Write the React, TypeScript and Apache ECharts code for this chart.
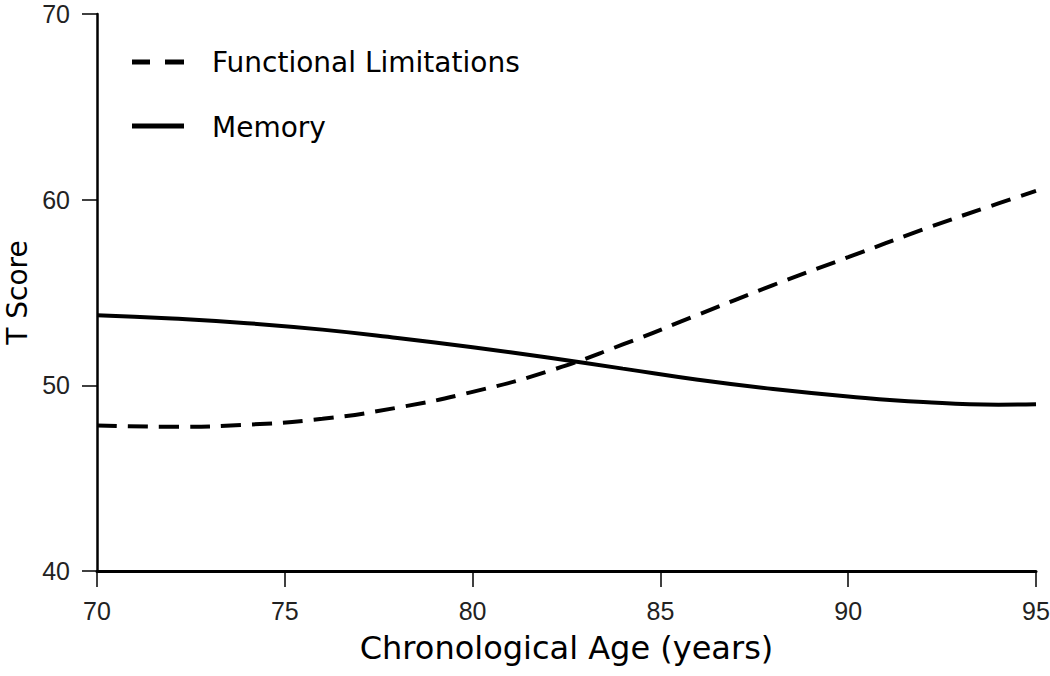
import React, { useEffect, useRef } from "react";
import * as echarts from "echarts";

const ages = [70, 72, 74, 76, 78, 80, 82, 84, 86, 88, 90, 92, 94, 95];
const memory = [53.78, 53.6, 53.35, 53.0, 52.55, 52.05, 51.5, 50.9, 50.3, 49.8, 49.4, 49.1, 48.96, 48.98];
const functional = [47.84, 47.77, 47.88, 48.2, 48.8, 49.65, 50.75, 52.2, 53.8, 55.4, 56.9, 58.4, 59.8, 60.47];
const seriesNames = ["Functional Limitations", "Memory"];
const xTitle = "Chronological Age (years)";
const yTitle = "T Score";

export default function App() {
  const ref = useRef<HTMLDivElement>(null);
  useEffect(() => {
    const chart = echarts.init(ref.current!, null, { renderer: "svg" });
    const tickFont = "'Liberation Sans', Arial, sans-serif";
    const titleFont = "'DejaVu Sans', 'Liberation Sans', sans-serif";
    chart.setOption({
      animation: false,
      backgroundColor: "#ffffff",
      textStyle: { fontFamily: tickFont },
      grid: { left: 97, right: 14, top: 14, bottom: 105, containLabel: false, outerBoundsMode: "none" },
      graphic: [
        {
          type: "line",
          shape: { x1: 132, y1: 62, x2: 150, y2: 62 },
          style: { stroke: "#000", lineWidth: 5 },
        },
        {
          type: "line",
          shape: { x1: 165, y1: 62, x2: 184, y2: 62 },
          style: { stroke: "#000", lineWidth: 5 },
        },
        {
          type: "text",
          x: 212,
          y: 62,
          style: { text: seriesNames[0], fontSize: 28, fontFamily: titleFont, fill: "#000", verticalAlign: "middle", align: "left" },
        },
        {
          type: "line",
          shape: { x1: 132, y1: 126, x2: 184, y2: 126 },
          style: { stroke: "#000", lineWidth: 5 },
        },
        {
          type: "text",
          x: 212,
          y: 127,
          style: { text: seriesNames[1], fontSize: 28, fontFamily: titleFont, fill: "#000", verticalAlign: "middle", align: "left" },
        },
      ],
      xAxis: {
        type: "value",
        min: 70,
        max: 95,
        interval: 5,
        name: xTitle,
        nameLocation: "middle",
        nameGap: 61,
        nameTextStyle: { fontSize: 32, color: "#000", fontFamily: titleFont },
        axisLine: { show: true, lineStyle: { color: "#000", width: 3 } },
        axisTick: { show: true, length: 16, lineStyle: { color: "#000", width: 1.5 } },
        axisLabel: { fontSize: 25, color: "#222", margin: 27, fontFamily: tickFont },
        splitLine: { show: false },
      },
      yAxis: {
        type: "value",
        min: 40,
        max: 70,
        interval: 10,
        name: yTitle,
        nameLocation: "middle",
        nameGap: 66,
        nameTextStyle: { fontSize: 28, color: "#000", fontFamily: titleFont },
        axisLine: { show: true, lineStyle: { color: "#000", width: 2.5 } },
        axisTick: { show: true, length: 15, lineStyle: { color: "#000", width: 1.5 } },
        axisLabel: { fontSize: 25, color: "#222", margin: 27, fontFamily: tickFont },
        splitLine: { show: false },
      },
      series: [
        {
          name: seriesNames[0],
          type: "line",
          smooth: true,
          symbol: "none",
          data: ages.map((a, i) => [a, functional[i]]),
          lineStyle: { color: "#000", width: 4, type: [20, 11] },
          itemStyle: { color: "#000" },
        },
        {
          name: seriesNames[1],
          type: "line",
          smooth: true,
          symbol: "none",
          data: ages.map((a, i) => [a, memory[i]]),
          lineStyle: { color: "#000", width: 4 },
          itemStyle: { color: "#000" },
        },
      ],
    });
    return () => chart.dispose();
  }, []);
  return <div ref={ref} style={{ position: "absolute", left: 0, top: 0, width: 1050, height: 676 }} />;
}
